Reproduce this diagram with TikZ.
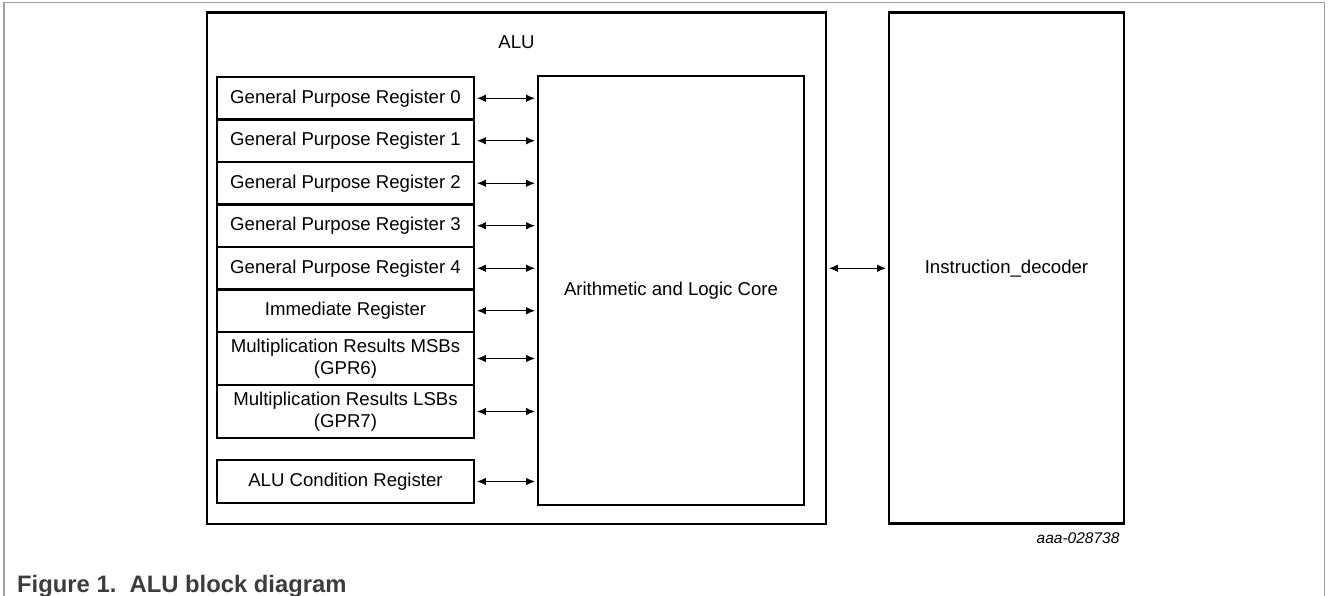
\documentclass[tikz,border=0pt]{standalone}
\usepackage{fontspec}
\setmainfont{Liberation Sans}
\usetikzlibrary{arrows.meta}
\definecolor{framegray}{RGB}{160,160,160}
\definecolor{capgray}{RGB}{60,60,60}
\begin{document}
\begin{tikzpicture}[x=1pt,y=-1pt,
  blk/.style={draw,line width=2.6pt,inner sep=0pt,align=center,
    font=\fontsize{18.6pt}{22pt}\selectfont},
  regbox/.style={blk,minimum width=257pt,minimum height=#1},
  regbox/.default=42.5pt,
  biarrow/.style={{Latex[length=9pt,width=7.5pt]}-{Latex[length=9pt,width=7.5pt]},
    line width=1.4pt,shorten <=1.5pt,shorten >=1.5pt}]
  \useasboundingbox (0,0) rectangle (1328,596);
  \draw[framegray,line width=1.3pt] (4,600) -- (4,2.7) -- (1324.5,2.7) -- (1324.5,600);
  % outer blocks
  \node[blk,minimum width=619pt,minimum height=511.5pt] (alu) at (516.5,268.25) {};
  \node[font=\fontsize{18.6pt}{22pt}\selectfont] (alulbl) at (516.5,42) {ALU};
  \node[blk,minimum width=266pt,minimum height=429pt] (core) at (671,290.5) {Arithmetic and Logic Core};
  \node[blk,minimum width=235pt,minimum height=511pt] (instr) at (1006.5,268.25) {Instruction\_decoder};
  % registers
  \node[regbox] (gpr0) at (345.5,98.25) {General Purpose Register 0};
  \node[regbox] (gpr1) at (345.5,140.75) {General Purpose Register 1};
  \node[regbox] (gpr2) at (345.5,183.25) {General Purpose Register 2};
  \node[regbox] (gpr3) at (345.5,225.75) {General Purpose Register 3};
  \node[regbox] (gpr4) at (345.5,268.25) {General Purpose Register 4};
  \node[regbox] (imm) at (345.5,310.75) {Immediate Register};
  \node[regbox=53pt] (msb) at (345.5,358.5) {Multiplication Results MSBs\\(GPR6)};
  \node[regbox=53pt] (lsb) at (345.5,411.5) {Multiplication Results LSBs\\(GPR7)};
  \node[regbox=43pt] (cond) at (345.5,481.5) {ALU Condition Register};
  % connections
  \foreach \r in {gpr0,gpr1,gpr2,gpr3,gpr4,imm,msb,lsb,cond}
    \draw[biarrow] (\r.east) -- (\r.east -| core.west);
  \draw[biarrow] (alu.east) -- (instr.west);
  \node[anchor=base east,font=\fontsize{15.5pt}{18pt}\selectfont\itshape] (figid) at (1123,543) {aaa-028738};
  \node[anchor=base west,inner sep=0pt,text=capgray,font=\fontsize{23.8pt}{28pt}\selectfont\bfseries] (caption) at (17,592) {Figure 1.\ \ ALU block diagram};
\end{tikzpicture}
\end{document}
